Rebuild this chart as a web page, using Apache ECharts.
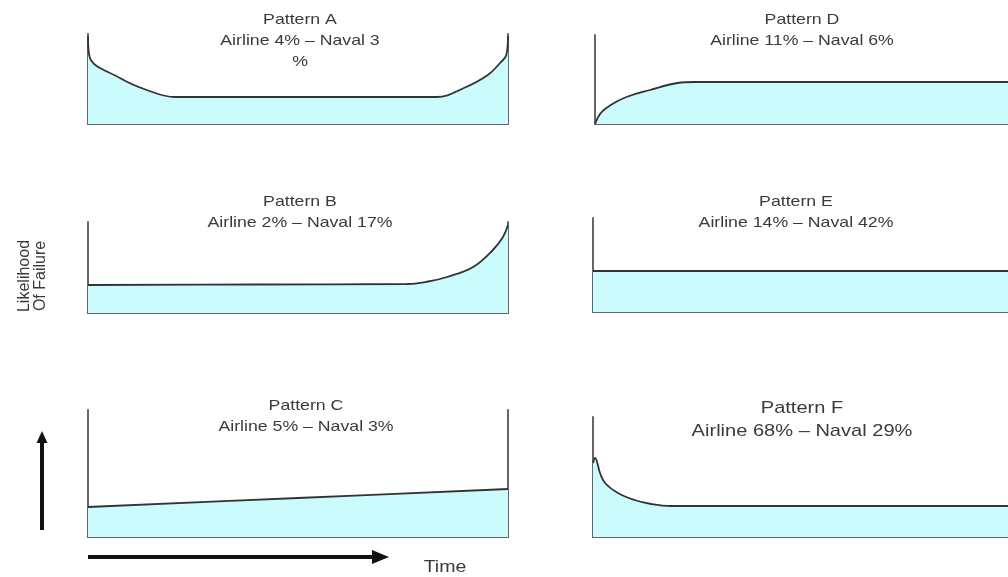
<!DOCTYPE html>
<html>
<head>
<meta charset="utf-8">
<script src="https://cdn.jsdelivr.net/npm/echarts@6/dist/echarts.min.js"></script>
<style>html,body{margin:0;padding:0;background:#fff;}#c{width:1008px;height:577px;}</style>
</head>
<body>
<div id="c"></div>
<script>
// Failure patterns: [time %, likelihood]
const patternA = [[0,88],[0.4,67],[7.6,46],[14,34],[20.7,27],[50,27],[83,27],[89.5,36],[95.2,49],[98.1,61],[99.6,69],[100,88]];
const patternB = [[0,28],[40,28.5],[76,29],[81,31.5],[85.5,36],[91.7,46],[96.4,63],[98.8,76],[100,88]];
const patternC = [[0,30],[50,39],[100,48]];
const patternD = [[0,0],[1.4,11],[3.8,19],[7.6,27],[13.3,34],[20,41],[24,42],[100,42]];
const patternE = [[0,41],[100,41]];
const patternF = [[0,74],[0.5,79],[1.7,64],[2.9,54],[6,44],[10,37],[14,33],[18.8,31],[100,31]];

const titles = [
  'Pattern A\nAirline 4% – Naval 3\n%',
  'Pattern B\nAirline 2% – Naval 17%',
  'Pattern C\nAirline 5% – Naval 3%',
  'Pattern D\nAirline 11% – Naval 6%',
  'Pattern E\nAirline 14% – Naval 42%',
  'Pattern F\nAirline 68% – Naval 29%'
];
const yMax = [90, 91, 127, 89, 94, 120];

const panels = [
  {data: patternA, left: 88, top: 34, h: 90, right: true},
  {data: patternB, left: 88, top: 222, h: 91, right: true},
  {data: patternC, left: 88, top: 410, h: 127, right: true},
  {data: patternD, left: 595, top: 35, h: 89, right: false},
  {data: patternE, left: 593, top: 218, h: 94, right: false},
  {data: patternF, left: 593, top: 417, h: 120, right: false}
];
const titlePos = [[300,9],[300,191],[306,395],[802,9],[796,191],[802,397]];

const axisColor = '#666';
const grid = [], xAxis = [], yAxis = [], series = [];
panels.forEach((p, i) => {
  grid.push({left: p.left, top: p.top, width: 420, height: p.h});
  xAxis.push({type: 'value', gridIndex: i, min: 0, max: 100,
    axisLine: {show: true, onZero: false, lineStyle: {color: axisColor, width: 2}},
    axisTick: {show: false}, axisLabel: {show: false}, splitLine: {show: false}});
  const yi = yAxis.length;
  yAxis.push({type: 'value', gridIndex: i, min: 0, max: yMax[i], position: 'left',
    axisLine: {show: true, onZero: false, lineStyle: {color: axisColor, width: 2}},
    axisTick: {show: false}, axisLabel: {show: false}, splitLine: {show: false}});
  if (p.right) {
    yAxis.push({type: 'value', gridIndex: i, min: 0, max: yMax[i], position: 'right',
      axisLine: {show: true, onZero: false, lineStyle: {color: axisColor, width: 2}},
      axisTick: {show: false}, axisLabel: {show: false}, splitLine: {show: false}});
  }
  series.push({type: 'line', xAxisIndex: i, yAxisIndex: yi, data: p.data,
    showSymbol: false, smooth: 0.4,
    lineStyle: {color: '#333', width: 1.8},
    areaStyle: {color: '#cbfbfc', opacity: 1}, z: 1});
});

const graphic = [];
titles.forEach((t, i) => {
  const big = i === 5;
  graphic.push({type: 'text', x: titlePos[i][0], y: titlePos[i][1], scaleX: 1.18,
    style: {text: t, textAlign: 'center', textVerticalAlign: 'top',
      font: (big ? '17px' : '15px') + ' "Liberation Sans", Arial, sans-serif',
      lineHeight: big ? 23 : 21, fill: '#3a3a3a'}});
});
graphic.push({type: 'text', x: 33, y: 276, rotation: Math.PI / 2,
  style: {text: 'Likelihood\nOf Failure', textAlign: 'center', textVerticalAlign: 'middle',
    font: '16px "Liberation Sans", Arial, sans-serif', lineHeight: 16, fill: '#3a3a3a'}});
graphic.push({type: 'text', x: 445, y: 567, scaleX: 1.15,
  style: {text: 'Time', textAlign: 'center', textVerticalAlign: 'middle',
    font: '17px "Liberation Sans", Arial, sans-serif', fill: '#3a3a3a'}});
// arrows
graphic.push({type: 'line', shape: {x1: 42, y1: 530, x2: 42, y2: 440}, style: {stroke: '#111', lineWidth: 4}});
graphic.push({type: 'polygon', shape: {points: [[42, 431], [36.5, 443], [47.5, 443]]}, style: {fill: '#111'}});
graphic.push({type: 'line', shape: {x1: 88, y1: 557, x2: 376, y2: 557}, style: {stroke: '#111', lineWidth: 4}});
graphic.push({type: 'polygon', shape: {points: [[389, 557], [372, 550], [372, 564]]}, style: {fill: '#111'}});

const chart = echarts.init(document.getElementById('c'), null, {renderer: 'canvas'});
chart.setOption({animation: false, backgroundColor: '#fff', grid, xAxis, yAxis, series, graphic});
</script>
</body>
</html>
